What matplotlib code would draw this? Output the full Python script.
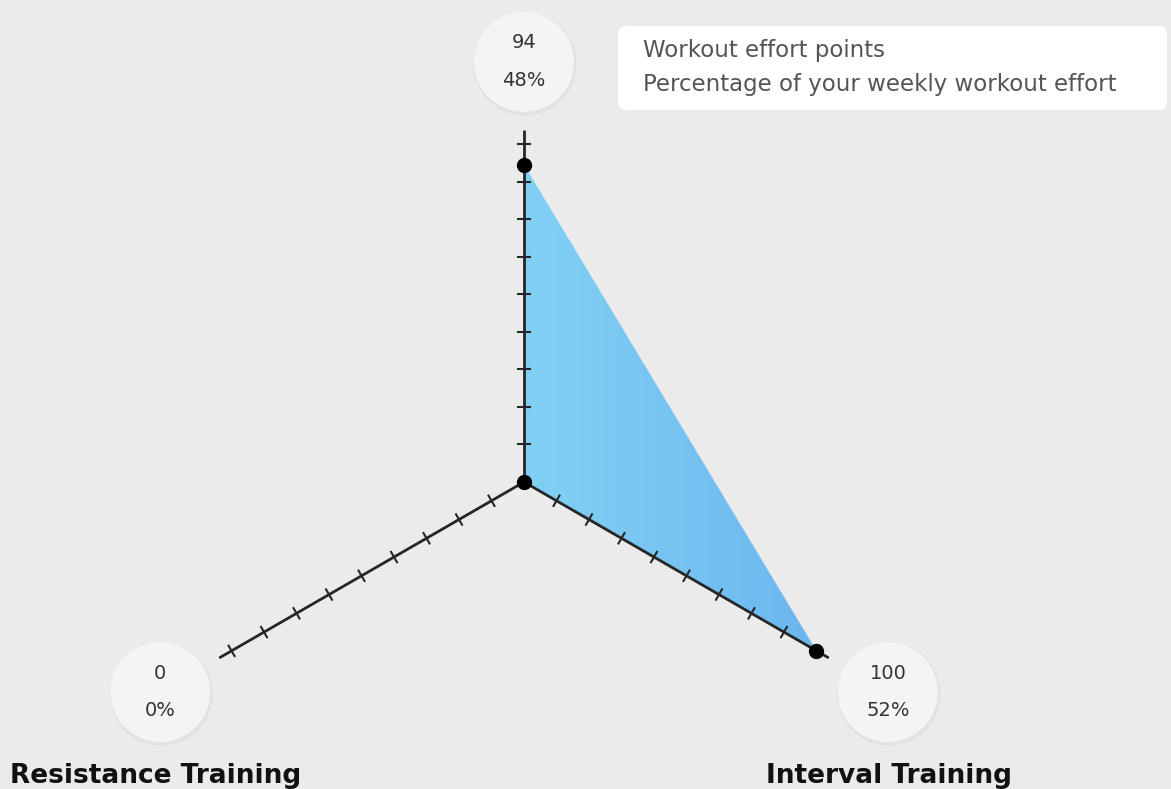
import numpy as np
import matplotlib.pyplot as plt
from matplotlib.patches import Circle, Polygon, FancyBboxPatch
from matplotlib.colors import LinearSegmentedColormap

# Data
categories = ["", "Resistance Training", "Interval Training"]  # top label is out of frame
points = [94, 0, 100]
percents = ["48%", "0%", "52%"]
angles_deg = [90, 210, 330]
legend_lines = ["Workout effort points", "Percentage of your weekly workout effort"]

bg = "#ebebeb"
line_col = "#262626"
px = 3.377          # pixels per effort point
axis_len = 104.2    # length of each spoke in points
n_ticks = 9
bubble_r = 14.8
bubble_dist = 124.4

fig = plt.figure(figsize=(11.71, 7.89), dpi=100, facecolor=bg)
ax = fig.add_axes([0, 0, 1, 1])
ax.set_facecolor(bg)
ax.set_xlim(-524 / px, (1171 - 524) / px)
ax.set_ylim(-(789 - 482) / px, 482 / px)
ax.set_aspect("equal")
ax.axis("off")

ang = np.radians(angles_deg)
xs = np.array(points) * np.cos(ang)
ys = np.array(points) * np.sin(ang)

# filled area with a soft horizontal gradient
poly = Polygon(np.column_stack([xs, ys]), closed=True, facecolor="none", edgecolor="none")
ax.add_patch(poly)
cmap = LinearSegmentedColormap.from_list("blu", ["#82d1f4", "#6cb6ee"])
grad = np.linspace(0, 1, 256).reshape(1, -1)
im = ax.imshow(grad, cmap=cmap, extent=[xs.min(), xs.max(), ys.min(), ys.max()],
               aspect="auto", zorder=1, interpolation="bicubic")
im.set_clip_path(poly)

# spokes with cross ticks
tick_half = 6 / px
for a in ang:
    ax.plot([0, axis_len * np.cos(a)], [0, axis_len * np.sin(a)], color=line_col, lw=2, zorder=2,
            solid_capstyle="butt")
    for k in range(1, n_ticks + 1):
        r = 100 / n_ticks * k
        cx, cy = r * np.cos(a), r * np.sin(a)
        nx, ny = -np.sin(a), np.cos(a)
        ax.plot([cx - nx * tick_half, cx + nx * tick_half],
                [cy - ny * tick_half, cy + ny * tick_half], color=line_col, lw=1.5, zorder=2)

ax.plot(xs, ys, "o", color="black", markersize=10, zorder=4)

# value bubbles
for a, p, pc in zip(ang, points, percents):
    bx, by = bubble_dist * np.cos(a), bubble_dist * np.sin(a)
    ax.add_patch(Circle((bx + 0.3, by - 0.6), bubble_r + 0.5, facecolor="#dcdcdc", edgecolor="none",
                        alpha=0.6, zorder=2))
    ax.add_patch(Circle((bx, by), bubble_r, facecolor="#f4f4f4", edgecolor="none", zorder=3))
    ax.text(bx, by + 5.6, str(p), ha="center", va="center", fontsize=14, color="#333333", zorder=4)
    ax.text(bx, by - 5.6, pc, ha="center", va="center", fontsize=14, color="#333333", zorder=4)

# category labels
fig.text(0.0085, 0.016, categories[1], ha="left", va="center", fontsize=19, fontweight="bold", color="#111111")
fig.text(0.759, 0.016, categories[2], ha="center", va="center", fontsize=19, fontweight="bold", color="#111111")

# legend box
x0, x1 = (618 - 524) / px, (1167 - 524) / px
y0, y1 = (482 - 110) / px, (482 - 26) / px
pad = 2.4
ax.add_patch(FancyBboxPatch((x0 + pad, y0 + pad), x1 - x0 - 2 * pad, y1 - y0 - 2 * pad,
                            boxstyle=f"round,pad={pad}", facecolor="white", edgecolor="none", zorder=3))
ax.text((643 - 524) / px, (482 - 50) / px, legend_lines[0], ha="left", va="center",
        fontsize=16.5, color="#555555", zorder=4)
ax.text((643 - 524) / px, (482 - 85) / px, legend_lines[1], ha="left", va="center",
        fontsize=16.5, color="#555555", zorder=4)

fig.savefig("out.png", dpi=100, facecolor=bg)
